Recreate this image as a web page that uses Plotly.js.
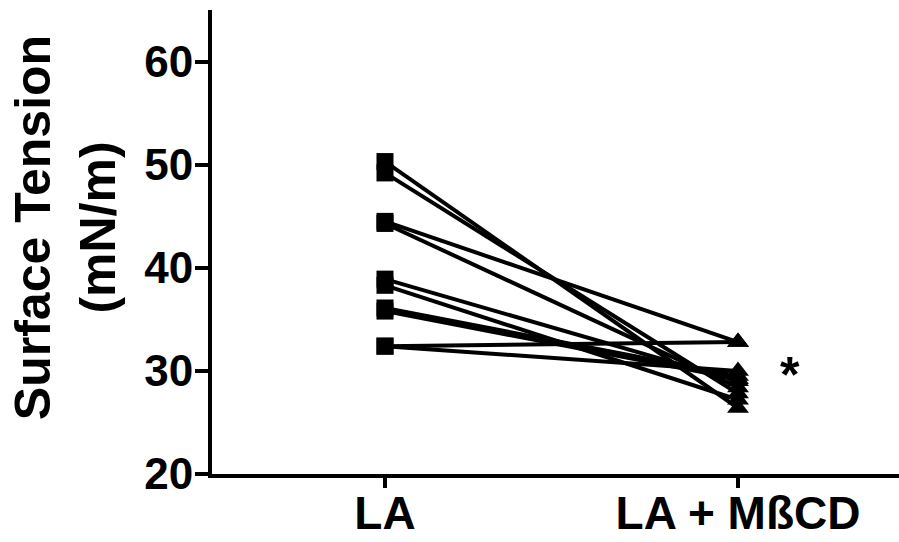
<!DOCTYPE html>
<html>
<head>
<meta charset="utf-8">
<script src="https://cdn.plot.ly/plotly-3.0.1.min.js"></script>
<style>html,body{margin:0;padding:0;background:#fff;}#chart{width:899px;height:542px;}</style>
</head>
<body>
<div id="chart"></div>
<script>
// Categories (x-axis)
const categories = ["LA", "LA + MßCD"];
// Surface tension (mN/m) per subject, paired across conditions
const laValues    = [50.3, 49.2, 44.5, 44.3, 38.9, 38.3, 36.1, 35.8, 32.4, 32.4];
const mbcdValues  = [26.4, 27.8, 32.8, 28.4, 29.0, 27.2, 29.5, 29.2, 32.8, 30.0];
const yTickVals = [20, 30, 40, 50, 60];
const yTitle = "Surface Tension<br>(mN/m)";
const sigMark = "*";

const FONT = "Arial, 'Liberation Sans', Helvetica, sans-serif";

const traces = laValues.map((v, i) => ({
  type: "scatter",
  mode: "lines+markers",
  x: categories,
  y: [v, mbcdValues[i]],
  line: {color: "#000", width: 4},
  marker: {color: "#000", opacity: 1, symbol: ["square", "triangle-up"], size: [17, 19], line: {width: 0}},
  opacity: 1,
  showlegend: false,
  hoverinfo: "skip"
}));

const layout = {
  width: 899,
  height: 542,
  margin: {l: 212, r: 0, t: 10, b: 68, pad: 0},
  paper_bgcolor: "#fff",
  plot_bgcolor: "#fff",
  showlegend: false,
  font: {family: FONT, color: "#000"},
  xaxis: {
    type: "category",
    range: [-0.49, 1.456],
    showline: true, linecolor: "#000", linewidth: 4,
    showgrid: false, zeroline: false,
    ticks: "outside", ticklen: 10, tickwidth: 3.5, tickcolor: "#000",
    ticklabelstandoff: -14,
    tickfont: {family: FONT, size: 46, weight: "bold", color: "#000"},
    fixedrange: true
  },
  yaxis: {
    range: [20, 65],
    tickvals: yTickVals,
    showline: true, linecolor: "#000", linewidth: 4,
    showgrid: false, zeroline: false,
    ticks: "outside", ticklen: 13, tickwidth: 4, tickcolor: "#000",
    ticklabelstandoff: -7,
    tickfont: {family: FONT, size: 44, weight: "bold", color: "#000"},
    fixedrange: true
  },
  annotations: [
    {
      text: yTitle, xref: "paper", yref: "paper",
      x: -0.214, y: 0.532, xanchor: "center", yanchor: "middle",
      textangle: -90, showarrow: false,
      font: {family: FONT, size: 50, weight: "bold", color: "#000"}
    },
    {
      text: sigMark, xref: "paper", yref: "y",
      x: 0.841, y: 30, xanchor: "center", yanchor: "middle",
      yshift: -4,
      showarrow: false,
      font: {family: FONT, size: 50, weight: "bold", color: "#000"}
    }
  ]
};

Plotly.newPlot("chart", traces, layout, {displayModeBar: false, staticPlot: true});
</script>
</body>
</html>
